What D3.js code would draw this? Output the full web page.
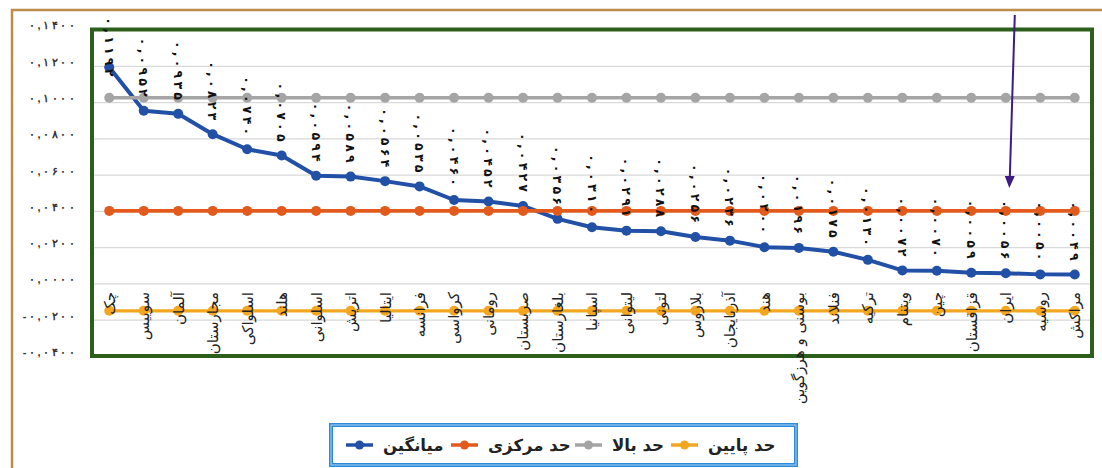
<!DOCTYPE html>
<html><head><meta charset="utf-8">
<script src="https://cdn.jsdelivr.net/npm/d3@7"></script>
<style>
html,body{margin:0;padding:0;background:#fff;}
svg{display:block;font-family:"DejaVu Sans",sans-serif;}
</style></head>
<body><svg id="c" width="1102" height="468"></svg>
<script>
const categories = ["چک","سوییس","آلمان","مجارستان","اسلواکی","هلند","اسلوانی","اتریش","ایتالیا","فرانسه","کرواسی","رومانی","صربستان","بلغارستان","اسپانیا","لیتوانی","لتونی","بلاروس","آذربایجان","هند","بوسنی و هرزگوین","فنلاند","ترکیه","ویتنام","چین","قزاقستان","ایران","روسیه","مراکش"];
const meanValues = [0.1192,0.0952,0.0935,0.0823,0.0740,0.0705,0.0594,0.0589,0.0564,0.0535,0.0460,0.0452,0.0427,0.0356,0.0310,0.0291,0.0288,0.0256,0.0236,0.0200,0.0196,0.0175,0.0130,0.0072,0.0070,0.0059,0.0056,0.0050,0.0049];
const centerValues = [0.04,0.04,0.04,0.04,0.04,0.04,0.04,0.04,0.04,0.04,0.04,0.04,0.04,0.04,0.04,0.04,0.04,0.04,0.04,0.04,0.04,0.04,0.04,0.04,0.04,0.04,0.04,0.04,0.04];
const upperValues = [0.1024,0.1024,0.1024,0.1024,0.1024,0.1024,0.1024,0.1024,0.1024,0.1024,0.1024,0.1024,0.1024,0.1024,0.1024,0.1024,0.1024,0.1024,0.1024,0.1024,0.1024,0.1024,0.1024,0.1024,0.1024,0.1024,0.1024,0.1024,0.1024];
const lowerValues = [-0.0151,-0.0151,-0.0151,-0.0151,-0.0151,-0.0151,-0.0151,-0.0151,-0.0151,-0.0151,-0.0151,-0.0151,-0.0151,-0.0151,-0.0151,-0.0151,-0.0151,-0.0151,-0.0151,-0.0151,-0.0151,-0.0151,-0.0151,-0.0151,-0.0151,-0.0151,-0.0151,-0.0151,-0.0151];
const yTicks = [-0.04,-0.02,0,0.02,0.04,0.06,0.08,0.10,0.12,0.14];
const seriesNames = ["میانگین","حد مرکزی","حد بالا","حد پایین"];
const markedCategory = "ایران";

const colors = ["#2150A6","#E25A1C","#A5A5A5","#F3A61F"];
const series = [meanValues, centerValues, upperValues, lowerValues];

const fa = s => s.replace(/[0-9]/g, d => "۰۱۲۳۴۵۶۷۸۹"[+d]).replace(".", ",");
const fmt = v => fa((v < 0 ? "-" : "") + Math.abs(v).toFixed(4));

// write a string as one tspan per character with a fixed extra gap
function spaced(node, str, gap){
  const t = d3.select(node); t.text(null);
  Array.from(str).forEach((ch,i)=>{
    t.append("tspan").attr("dx", i ? gap : 0).text(ch);
  });
}

const svg = d3.select("#c");
const L = 92, R = 1092, T = 29.5, B = 356;
const x = d3.scalePoint().domain(categories).range([L, R]).padding(0.5);
const y = d3.scaleLinear().domain([-0.04, 0.14]).range([B, T]);

svg.append("rect").attr("width",1102).attr("height",468).attr("fill","#fff");
// outer frame
svg.append("path").attr("d","M12,468V10H1102").attr("fill","none").attr("stroke","#BC8C4A").attr("stroke-width",2.5);

// gridlines
const grid = svg.append("g").attr("transform",`translate(${L},0)`)
  .call(d3.axisLeft(y).tickValues(yTicks).tickSize(-(R-L)).tickFormat(""));
grid.select(".domain").remove();
grid.selectAll("line").attr("stroke","#D9D9D9").attr("stroke-width",1.2);

// y labels
const ya = svg.append("g").attr("transform",`translate(${L},0)`)
  .call(d3.axisLeft(y).tickValues(yTicks).tickSize(0).tickPadding(17).tickFormat(fmt));
ya.select(".domain").remove();
ya.selectAll("text").attr("font-size",11).attr("font-weight","bold").attr("fill","#333")
  .attr("dy","-0.05em").style("direction","ltr")
  .each(function(d){ spaced(this, fmt(d), 2.6); });

// series lines + markers
const line = d3.line().x((d,i)=>x(categories[i])).y(d=>y(d));
const widths = [4,3.6,3.4,3.4];
series.forEach((vals,si)=>{
  const g = svg.append("g");
  g.append("path").datum(vals).attr("d",line).attr("fill","none")
    .attr("stroke",colors[si]).attr("stroke-width",widths[si]).attr("stroke-linejoin","round");
  g.selectAll("circle").data(vals).join("circle")
    .attr("cx",(d,i)=>x(categories[i])).attr("cy",d=>y(d)).attr("r",5)
    .attr("fill",colors[si]);
});

// plot border
svg.append("rect").attr("x",L).attr("y",T).attr("width",R-L).attr("height",B-T)
  .attr("fill","none").attr("stroke","#2D5F1C").attr("stroke-width",4);

// category labels
svg.append("g").selectAll("text").data(categories).join("text")
  .attr("transform",d=>`translate(${x(d)},292) rotate(-90)`)
  .attr("text-anchor","end").attr("dy","0.36em")
  .attr("font-size",15).attr("fill","#222").text(d=>d);

// data labels
const dl = svg.append("g").selectAll("text").data(meanValues).join("text")
  .attr("font-size",12.5).attr("font-weight","bold").attr("fill","#111")
  .style("direction","ltr")
  .attr("text-anchor","end").attr("dy","0.36em")
  .each(function(d){ spaced(this, fmt(d), 3.2); });
dl.each(function(d,i){
  const len = this.getBBox().width;
  let end = y(d) - 14;
  if (end - len < 17) end = 17 + len;
  d3.select(this).attr("transform",`translate(${x(categories[i])},${end}) rotate(90)`);
});

// arrow pointing at marked category
const ax = x(markedCategory);
svg.append("line").attr("x1",ax+9).attr("y1",15).attr("x2",ax+4).attr("y2",178)
  .attr("stroke","#3E1B84").attr("stroke-width",2);
svg.append("path").attr("d",`M${ax-1},176 L${ax+9},176 L${ax+3.5},188 Z`).attr("fill","#3E1B84");

// legend
const lg = svg.append("g");
lg.append("rect").attr("x",331).attr("y",425).attr("width",465).attr("height",40)
  .attr("fill","#fff").attr("stroke","#2E8BDA").attr("stroke-width",4);
lg.append("rect").attr("x",331).attr("y",425).attr("width",465).attr("height",40)
  .attr("fill","none").attr("stroke","#A9D3F5").attr("stroke-width",1);
const itemX = [346,451,575,671];
seriesNames.forEach((n,i)=>{
  const g = lg.append("g").attr("transform",`translate(${itemX[i]},445)`);
  g.append("line").attr("x1",0).attr("x2",27).attr("stroke",colors[i]).attr("stroke-width",3.5);
  g.append("circle").attr("cx",13.5).attr("r",4.5).attr("fill",colors[i]);
  g.append("text").attr("x",37).attr("dy","0.35em").attr("font-size",16.5).attr("font-weight","bold")
    .attr("fill","#222").attr("text-anchor","start").style("direction","ltr").text(n);
});
</script></body></html>
